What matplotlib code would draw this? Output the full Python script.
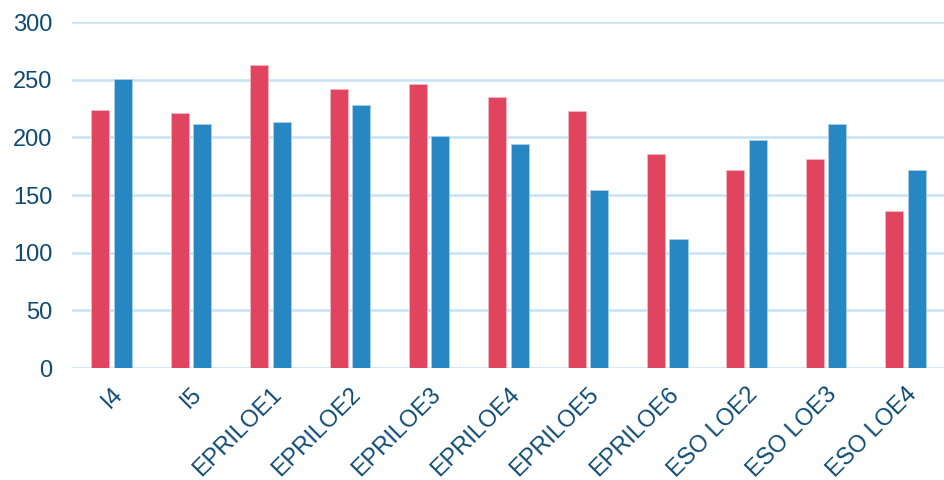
import numpy as np
import matplotlib
matplotlib.use('Agg')
from matplotlib import pyplot as plt

categories = ['I4', 'I5', 'EPRILOE1', 'EPRILOE2', 'EPRILOE3', 'EPRILOE4',
              'EPRILOE5', 'EPRILOE6', 'ESO LOE2', 'ESO LOE3', 'ESO LOE4']
red_values = [224, 221, 263, 242, 246, 235, 223, 186, 172, 181, 136]
blue_values = [251, 212, 213, 228, 201, 194, 154, 112, 198, 212, 172]
y_ticks = [0, 50, 100, 150, 200, 250, 300]

RED = '#e1445f'
BLUE = '#2787c2'
TEXT = '#0e4a72'
GRID = '#c6e3f7'

plt.rcParams['font.family'] = ['Liberation Sans', 'DejaVu Sans']

fig = plt.figure(figsize=(9.45, 4.8), dpi=100)
ax = fig.add_axes([0.0762, 0.2333, 0.9238, 0.7208])

x = np.arange(len(categories))
width = 0.227
ax.bar(x - 0.142, red_values, width, color=RED, edgecolor='#f3b8c3', linewidth=0.6, zorder=3)
ax.bar(x + 0.142, blue_values, width, color=BLUE, edgecolor='#a9d0ea', linewidth=0.6, zorder=3)

ax.set_xlim(-0.5, len(categories) - 0.5)
ax.set_ylim(0, 300)
ax.set_yticks(y_ticks)
ax.yaxis.grid(True, color=GRID, linewidth=1.8, zorder=0)
ax.set_axisbelow(True)

ax.set_xticks(x)
ax.set_xticklabels(categories, rotation=45, ha='right', va='top',
                   rotation_mode='anchor', fontsize=17, color=TEXT)
ax.tick_params(axis='x', length=0, pad=11)
ax.tick_params(axis='y', length=0, pad=14, labelsize=17, labelcolor=TEXT)
for s in ax.spines.values():
    s.set_visible(False)

fig.savefig('out.png', dpi=100)
